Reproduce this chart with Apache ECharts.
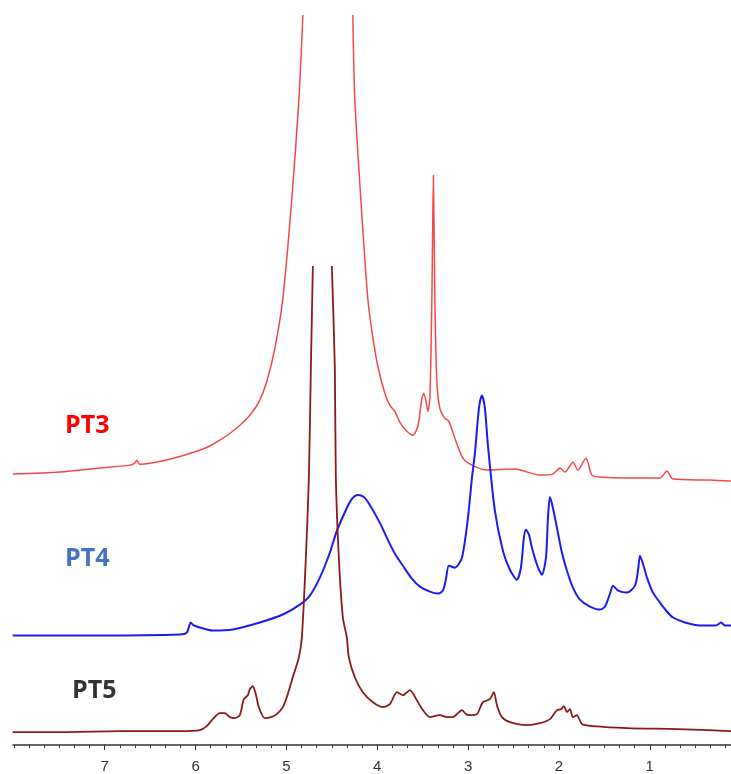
<!DOCTYPE html>
<html>
<head>
<meta charset="utf-8">
<script src="https://cdn.jsdelivr.net/npm/echarts@6/dist/echarts.min.js"></script>
<style>
html,body{margin:0;padding:0;background:#fff;}
#chart{width:731px;height:774px;}
</style>
</head>
<body>
<div id="chart"></div>
<script>
// ---- data (chemical shift in ppm, intensity above each trace's own baseline) ----
const tickLabels = [1, 2, 3, 4, 5, 6, 7];
const seriesNames = ['PT3', 'PT4', 'PT5'];

const pt3Ppm = [8.013,7.496,7.055,6.725,6.670,6.648,6.615,6.284,5.954,5.850,5.733,5.620,5.500,5.403,5.300,5.216,5.128,5.040,4.941,4.863,4.819,
  4.544,
  4.269,4.247,4.181,4.104,4.050,3.993,3.916,3.861,3.806,3.751,3.674,3.608,3.553,3.509,3.487,3.465,3.443,3.421,3.399,3.382,3.366,3.344,3.311,3.256,3.212,3.146,3.057,2.958,2.793,2.485,2.209,2.066,1.989,1.934,1.846,1.791,1.703,1.637,1.548,1.185,0.888,0.811,0.745,0.337,0.106];
const pt3Int = [7,9,13,16,18,21,17,22,31,35,41,48,57,66,80,100,133,183,283,383,468,
  null,
  468,383,283,183,145,115,88,76,70,59,50,46,55,83,88,81,70,83,183,307,183,100,73,63,60,43,23,16,11,12,6,7,13,9,19,11,23,6,4,3,3,10,2,1,0];

const pt4Ppm = [8.013,7.055,6.174,6.097,6.053,6.020,5.954,5.811,5.590,5.293,5.040,4.852,4.742,4.632,4.522,4.445,4.335,4.280,4.214,4.148,4.082,3.971,3.894,3.806,3.718,3.619,3.531,3.421,3.333,3.278,3.245,3.212,3.146,3.068,3.002,2.958,2.925,2.881,2.848,2.815,2.782,2.705,2.617,2.540,2.463,2.419,2.386,2.364,2.330,2.297,2.242,2.187,2.143,2.121,2.099,2.066,2.022,1.967,1.912,1.846,1.769,1.659,1.548,1.493,1.438,1.405,1.349,1.251,1.163,1.130,1.108,1.075,1.031,0.965,0.888,0.811,0.745,0.612,0.447,0.271,0.216,0.172,0.106];
const pt4Int = [0,0,1,3,13,10,8,5,6,13,21,31,40,58,83,105,128,137,141,139,131,113,98,82,70,57,49,44,42,45,56,70,68,78,118,158,183,228,241,228,191,125,85,66,56,68,98,106,101,88,71,61,78,118,139,128,108,83,65,48,36,29,26,29,42,50,45,43,50,65,80,72,58,43,33,24,18,13,10,10,13,10,10];

const pt5Ppm = [8.013,7.496,6.835,6.174,5.954,5.877,5.811,5.733,5.678,5.623,5.568,5.513,5.469,5.425,5.403,5.370,5.337,5.304,5.238,5.172,5.106,5.040,4.996,4.930,4.863,4.830,4.786,4.753,4.731,4.709,
  4.605,
  4.500,4.467,4.456,4.423,4.379,4.335,4.313,4.247,4.159,4.048,3.938,3.861,3.784,3.718,3.641,3.564,3.498,3.421,3.311,3.233,3.167,3.112,3.068,3.024,2.980,2.903,2.837,2.760,2.716,2.683,2.628,2.540,2.353,2.209,2.099,2.022,1.978,1.945,1.912,1.879,1.846,1.802,1.747,1.626,1.251,0.700,0.106];
const pt5Int = [0,0,1,1,2,6,13,19,19,15,14,17,33,37,43,46,38,25,14,15,18,25,35,55,75,95,175,255,365,468,
  null,
  468,365,255,175,115,95,75,55,40,30,25,28,40,37,42,32,22,15,17,15,15,19,22,18,17,18,30,33,40,27,15,10,7,9,13,22,23,26,20,23,15,17,8,6,4,3,1];

// ---- build chart ----
const baselines = [265, 110, 13];
const colors = ['#f24848', '#1c1cf2', '#8b1a1a'];
const widths = [1.5, 2, 1.8];
const ppmSets = [pt3Ppm, pt4Ppm, pt5Ppm];
const intSets = [pt3Int, pt4Int, pt5Int];

const allTicks = [];
for (let k = 1; k <= 48; k++) allTicks.push(k / 6);

const series = seriesNames.map((name, i) => ({
  name: name,
  type: 'line',
  xAxisIndex: 0,
  yAxisIndex: 0,
  showSymbol: false,
  symbol: 'none',
  connectNulls: false,
  smooth: 0.25,
  lineStyle: { color: colors[i], width: widths[i] },
  data: ppmSets[i].map((p, j) => [p, intSets[i][j] == null ? null : intSets[i][j] + baselines[i]]),
  z: 2 + i
}));

const chart = echarts.init(document.getElementById('chart'), null, { renderer: 'canvas' });
chart.setOption({
  animation: false,
  backgroundColor: '#ffffff',
  grid: { left: 13, right: 0, top: 0, bottom: 26, containLabel: false },
  xAxis: [
    {
      type: 'value', inverse: true, min: 0.106, max: 8.01,
      axisLine: { show: true, onZero: false, lineStyle: { color: '#333333', width: 1.5 } },
      axisTick: { show: true, length: 3, customValues: allTicks, lineStyle: { color: '#333333', width: 1 } },
      axisLabel: { show: true, customValues: tickLabels, margin: 14, color: '#333333', fontSize: 15, fontFamily: 'Liberation Sans Narrow, Liberation Sans, Arial' },
      splitLine: { show: false }
    },
    {
      type: 'value', inverse: true, min: 0.106, max: 8.01, position: 'bottom',
      axisLine: { show: false, onZero: false },
      axisTick: { show: true, length: 5, customValues: tickLabels, lineStyle: { color: '#333333', width: 1 } },
      axisLabel: { show: false },
      splitLine: { show: false }
    }
  ],
  yAxis: {
    type: 'value', min: 0, max: 748, show: false,
    splitLine: { show: false }
  },
  graphic: [
    { type: 'text', left: 65, top: 413, style: { text: seriesNames[0], fill: '#ff0000', font: 'bold 25px "Open Sans"' } },
    { type: 'text', left: 65, top: 546, style: { text: seriesNames[1], fill: '#4472c4', font: 'bold 25px "Open Sans"' } },
    { type: 'text', left: 72, top: 678, style: { text: seriesNames[2], fill: '#333333', font: 'bold 25px "Open Sans"' } }
  ],
  series: series
});
</script>
</body>
</html>
